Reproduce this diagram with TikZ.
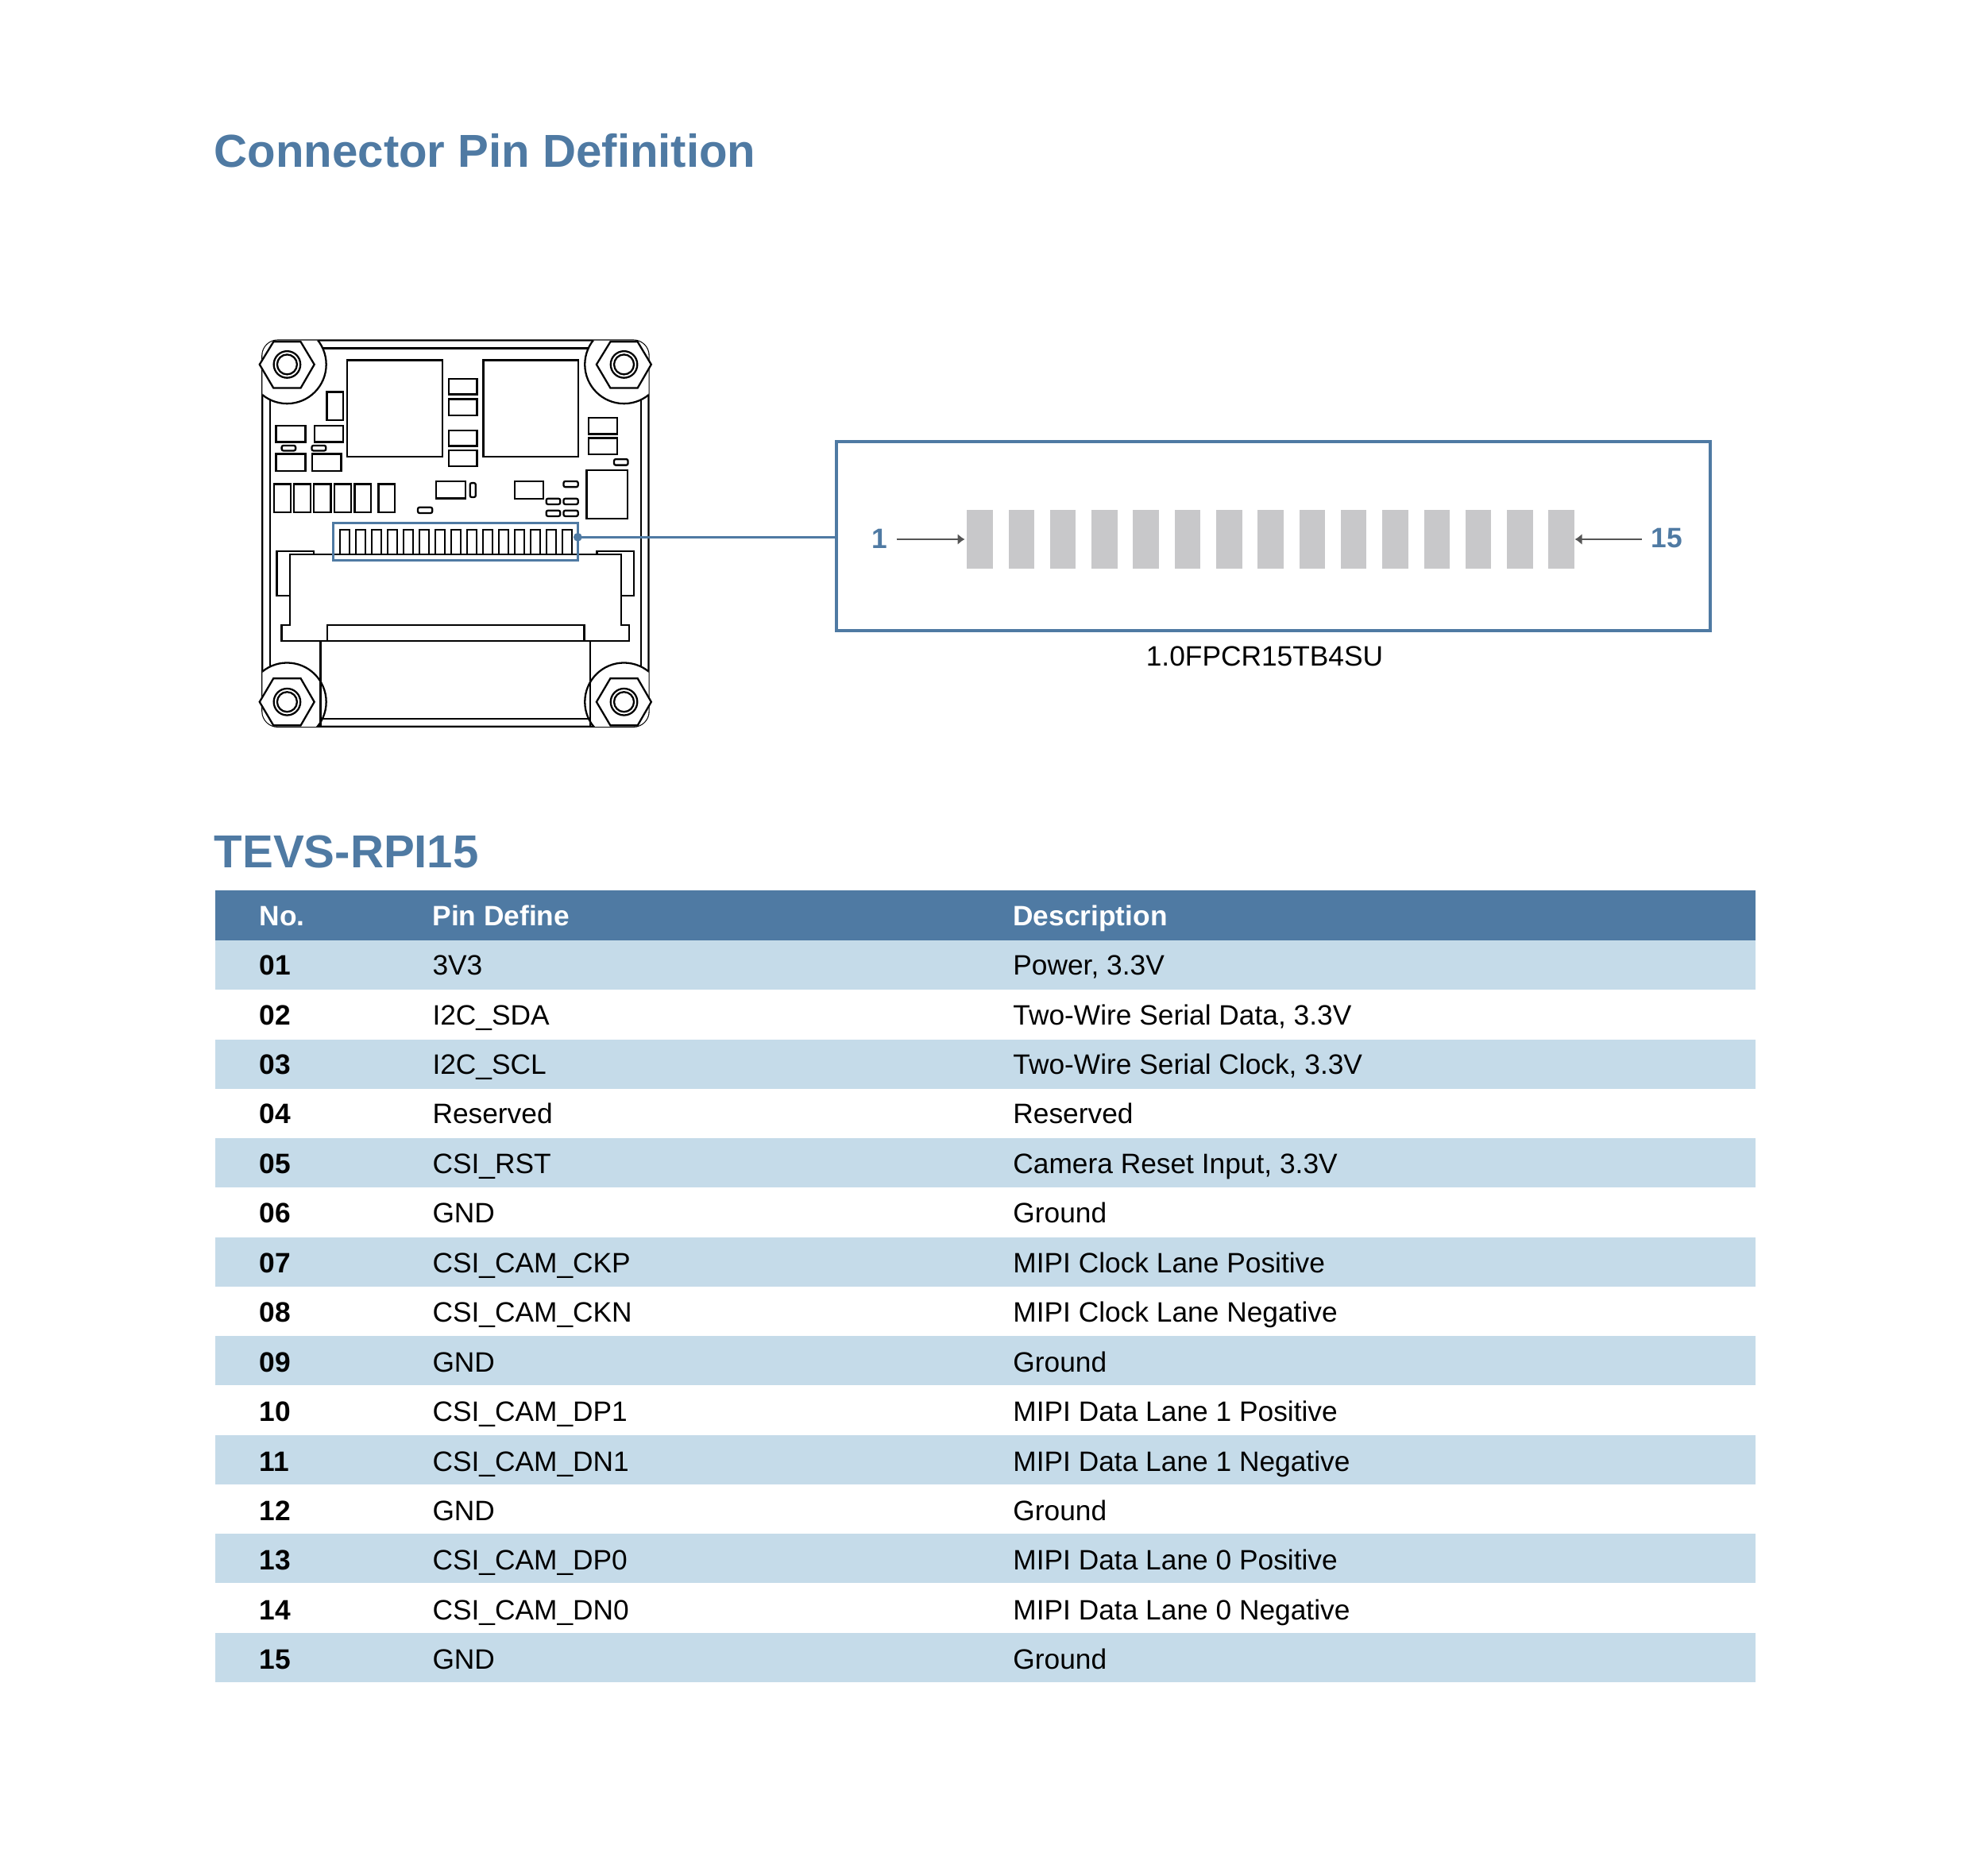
\documentclass[tikz,border=0pt]{standalone}
\usepackage{fontspec}
\setmainfont{Liberation Sans}
\usepackage{tikz}
\usetikzlibrary{arrows.meta}
\usetikzlibrary{positioning}
\definecolor{headblue}{HTML}{4F7AA3}
\definecolor{bandblue}{HTML}{C5DBE9}
\definecolor{padgray}{HTML}{C8C8CA}
\definecolor{arrowgray}{HTML}{555555}
\newcommand{\pnode}[2]{\node(#1)[cell]{#2}}
\newcommand{\padnode}[1]{\node(#1)[pad]{}}
\newcommand{\bandrow}[1]{\fill[bandblue] (2.705,-#1) rectangle +(19.392,-0.621)}

\begin{document}
\begin{tikzpicture}[
        every node/.style={font=\fontsize{10.05}{12}\selectfont},
        heading/.style={anchor=base west,inner sep=0pt,text=headblue,font=\fontsize{16.55}{20}\selectfont\bfseries},
        cell/.style={rectangle,inner ysep=0pt,inner xsep=5.5mm,outer sep=0pt,minimum height=6.245mm,
                     text height=2.5mm,text depth=0mm,align=flush left},
        pad/.style={rectangle,fill=padgray,inner sep=0pt,minimum width=3.25mm,minimum height=7.43mm},
        pinlabel/.style={inner sep=0pt,text=headblue,font=\fontsize{10.05}{12}\selectfont\bfseries},
        pinarrow/.style={draw=arrowgray,line width=0.5pt,-{Latex[length=0.9mm,width=1.4mm]}},
        pcb/.style={draw=black,line width=0.65pt},
        blueline/.style={draw=headblue,line width=0.85pt},
        frameline/.style={draw=headblue,line width=1.1pt}
      ]
      \useasboundingbox (0,0) rectangle (24.8,-23.62);

      % Titles
      \node(title)[heading] at (2.69,-2.105) {Connector Pin Definition};
      \node(model)[heading] at (2.69,-10.925) {TEVS-RPI15};

      % The camera board, drawn in its own grid
      \begin{scope}[shift={(3,-4)},x=0.03571mm,y=-0.03571mm]
        % Outline and inner edges
        \draw[pcb,rounded corners=5.5pt] (85,80) rectangle (1447,1442);
        \draw[pcb] (113,108) -- (1420,108) -- (1420,1415) -- (113,1415) -- cycle;

        % Mounting corners: clipped disc, hex nut, washer
        \begin{scope}
          \clip[rounded corners=5.5pt] (85,80) rectangle (1447,1442);
          \draw[pcb,fill=white] (172,165) circle (138);
          \draw[pcb,fill=white] (1360,165) circle (138);
          \draw[pcb,fill=white] (172,1355) circle (138);
          \draw[pcb,fill=white] (1360,1355) circle (138);
        \end{scope}
        \draw[pcb,fill=white] (75,165) -- (124,85) -- (220,85) -- (268,165) -- (220,248) -- (124,248) -- cycle;
        \draw[pcb,fill=white] (1263,165) -- (1312,85) -- (1408,85) -- (1456,165) -- (1408,248) -- (1312,248) -- cycle;
        \draw[pcb,fill=white] (75,1355) -- (124,1272) -- (220,1272) -- (268,1355) -- (220,1438) -- (124,1438) -- cycle;
        \draw[pcb,fill=white] (1263,1355) -- (1312,1272) -- (1408,1272) -- (1456,1355) -- (1408,1438) -- (1312,1438) -- cycle;
        \draw[pcb] (172,165) circle (47) (172,165) circle (35);
        \draw[pcb] (1360,165) circle (47) (1360,165) circle (35);
        \draw[pcb] (172,1355) circle (47) (172,1355) circle (35);
        \draw[pcb] (1360,1355) circle (47) (1360,1355) circle (35);

        % Chips
        \draw[pcb] (383,150) rectangle (720,490);
        \draw[pcb] (864,150) rectangle (1199,490);
        \draw[pcb] (312,262) rectangle (370,362);

        % Passive parts, left
        \draw[pcb] (133,381) rectangle (237,438) (268,381) rectangle (370,438);
        \draw[pcb] (133,480) rectangle (237,540) (261,480) rectangle (363,540);
        \draw[pcb,rounded corners=0.6pt] (153,451) rectangle (202,469) (259,451) rectangle (309,469);
        \draw[pcb] (126,587) rectangle (185,687) (197,587) rectangle (255,687) (267,587) rectangle (326,687);
        \draw[pcb] (339,587) rectangle (397,687) (410,587) rectangle (468,687) (494,587) rectangle (552,687);

        % Passive parts, middle
        \draw[pcb] (742,215) rectangle (842,270) (742,287) rectangle (842,344);
        \draw[pcb] (742,397) rectangle (842,452) (742,467) rectangle (842,524);
        \draw[pcb] (698,578) rectangle (802,637);
        \draw[pcb,rounded corners=0.6pt] (817,583) rectangle (837,633) (633,669) rectangle (684,689);

        % Passive parts, right
        \draw[pcb] (1235,353) rectangle (1336,410) (1235,424) rectangle (1336,481);
        \draw[pcb] (1228,538) rectangle (1372,708);
        \draw[pcb] (975,578) rectangle (1076,638);
        \draw[pcb,rounded corners=0.6pt] (1325,499) rectangle (1374,520) (1147,577) rectangle (1198,597);
        \draw[pcb,rounded corners=0.6pt] (1086,638) rectangle (1135,658) (1147,638) rectangle (1198,658);
        \draw[pcb,rounded corners=0.6pt] (1086,680) rectangle (1135,700) (1147,680) rectangle (1198,700);

        % Connector pins, 1 to 15
        \draw[pcb] (358,835) |- (392,747) -- (392,835) (414,835) |- (448,747) -- (448,835)
          (470,835) |- (504,747) -- (504,835) (526,835) |- (560,747) -- (560,835)
          (582,835) |- (616,747) -- (616,835) (638,835) |- (672,747) -- (672,835)
          (694,835) |- (728,747) -- (728,835) (750,835) |- (784,747) -- (784,835)
          (806,835) |- (840,747) -- (840,835) (862,835) |- (896,747) -- (896,835)
          (918,835) |- (952,747) -- (952,835) (974,835) |- (1008,747) -- (1008,835)
          (1030,835) |- (1064,747) -- (1064,835) (1086,835) |- (1120,747) -- (1120,835)
          (1142,835) |- (1176,747) -- (1176,835);

        % Connector housing and ribbon
        \draw[pcb] (182,835) -- (1350,835) -- (1350,1085) -- (1378,1085) -- (1378,1140)
          -- (153,1140) -- (153,1085) -- (182,1085) -- cycle;
        \draw[pcb] (182,980) -- (136,980) -- (136,824) -- (267,824) -- (267,835);
        \draw[pcb] (1350,980) -- (1395,980) -- (1395,824) -- (1265,824) -- (1265,835);
        \draw[pcb] (313,1140) |- (1220,1085) -- (1220,1140);
        \draw[pcb] (290,1140) -- (290,1442) (1240,1140) -- (1240,1442);

        % Highlight round the pins
        \draw[blueline] (335,724) rectangle (1198,856);
        \node(pindot)[circle,fill=headblue,inner sep=0pt,minimum size=1.08mm] at (1197,774) {};
      \end{scope}

      % The connector close-up
      \node(frame)[rectangle,frameline,minimum width=11.004cm,minimum height=2.383cm,outer sep=0pt] at (16.028,-6.749) {};
      \draw[blueline] (pindot.center) -- (pindot -| frame.west);
      \node(partname)[inner sep=0pt] at (15.92,-8.267) {1.0FPCR15TB4SU};

      % The pads are drawn in a matrix
      \matrix(pads)[row sep=0mm, column sep=1.98mm, inner sep=0pt, anchor=west] at (12.165,-6.79) {
        \padnode{p1}; & \padnode{p2}; & \padnode{p3}; & \padnode{p4}; & \padnode{p5}; &
        \padnode{p6}; & \padnode{p7}; & \padnode{p8}; & \padnode{p9}; & \padnode{p10}; &
        \padnode{p11}; & \padnode{p12}; & \padnode{p13}; & \padnode{p14}; & \padnode{p15};\\
      };
      \node(one)[pinlabel] at (11.07,-6.78) {1};
      \node(fifteen)[pinlabel] at (20.985,-6.78) {15};
      \draw[pinarrow,shorten <=1.1mm,shorten >=0.2mm] (one.east |- p1.west) -- (p1.west);
      \draw[pinarrow,shorten <=1.15mm] (fifteen.west |- p15.east) -- (p15.east);

      % Bands of the pin table
      \fill[headblue] (2.705,-11.213) rectangle (22.097,-11.843);
      \bandrow{11.843};
      \bandrow{13.088};
      \bandrow{14.332};
      \bandrow{15.577};
      \bandrow{16.821};
      \bandrow{18.066};
      \bandrow{19.311};
      \bandrow{20.555};

      % The text of the pin table is a matrix as well
      % \\ delimits the rows while & delimits the columns
      \matrix(pins)[inner sep=0pt, row sep=0mm, column sep=0mm, anchor=north west,
        column 1/.style={nodes={text width=10.8mm,font=\fontsize{10.05}{12}\selectfont\bfseries}},
        column 2/.style={nodes={text width=62.09mm}},
        column 3/.style={nodes={text width=80mm}},
        row 1/.style={nodes={text=white,font=\fontsize{10.05}{12}\selectfont\bfseries}}
      ] at (2.708,-11.207) {
        \pnode{h1}{No.}; & \pnode{h2}{Pin Define}; & \pnode{h3}{Description};\\
        % Pins 1 to 5: power, control lines
        \pnode{n1}{01}; & \pnode{d1}{3V3}; & \pnode{t1}{Power, 3.3V};\\
        \pnode{n2}{02}; & \pnode{d2}{I2C\_SDA}; & \pnode{t2}{Two-Wire Serial Data, 3.3V};\\
        \pnode{n3}{03}; & \pnode{d3}{I2C\_SCL}; & \pnode{t3}{Two-Wire Serial Clock, 3.3V};\\
        \pnode{n4}{04}; & \pnode{d4}{Reserved}; & \pnode{t4}{Reserved};\\
        \pnode{n5}{05}; & \pnode{d5}{CSI\_RST}; & \pnode{t5}{Camera Reset Input, 3.3V};\\
        % Pins 6 to 8: clock lane
        \pnode{n6}{06}; & \pnode{d6}{GND}; & \pnode{t6}{Ground};\\
        \pnode{n7}{07}; & \pnode{d7}{CSI\_CAM\_CKP}; & \pnode{t7}{MIPI Clock Lane Positive};\\
        \pnode{n8}{08}; & \pnode{d8}{CSI\_CAM\_CKN}; & \pnode{t8}{MIPI Clock Lane Negative};\\
        % Pins 9 to 11: data lane 1
        \pnode{n9}{09}; & \pnode{d9}{GND}; & \pnode{t9}{Ground};\\
        \pnode{n10}{10}; & \pnode{d10}{CSI\_CAM\_DP1}; & \pnode{t10}{MIPI Data Lane 1 Positive};\\
        \pnode{n11}{11}; & \pnode{d11}{CSI\_CAM\_DN1}; & \pnode{t11}{MIPI Data Lane 1 Negative};\\
        % Pins 12 to 15: data lane 0
        \pnode{n12}{12}; & \pnode{d12}{GND}; & \pnode{t12}{Ground};\\
        \pnode{n13}{13}; & \pnode{d13}{CSI\_CAM\_DP0}; & \pnode{t13}{MIPI Data Lane 0 Positive};\\
        \pnode{n14}{14}; & \pnode{d14}{CSI\_CAM\_DN0}; & \pnode{t14}{MIPI Data Lane 0 Negative};\\
        \pnode{n15}{15}; & \pnode{d15}{GND}; & \pnode{t15}{Ground};\\
      };
    \end{tikzpicture}
\end{document}
